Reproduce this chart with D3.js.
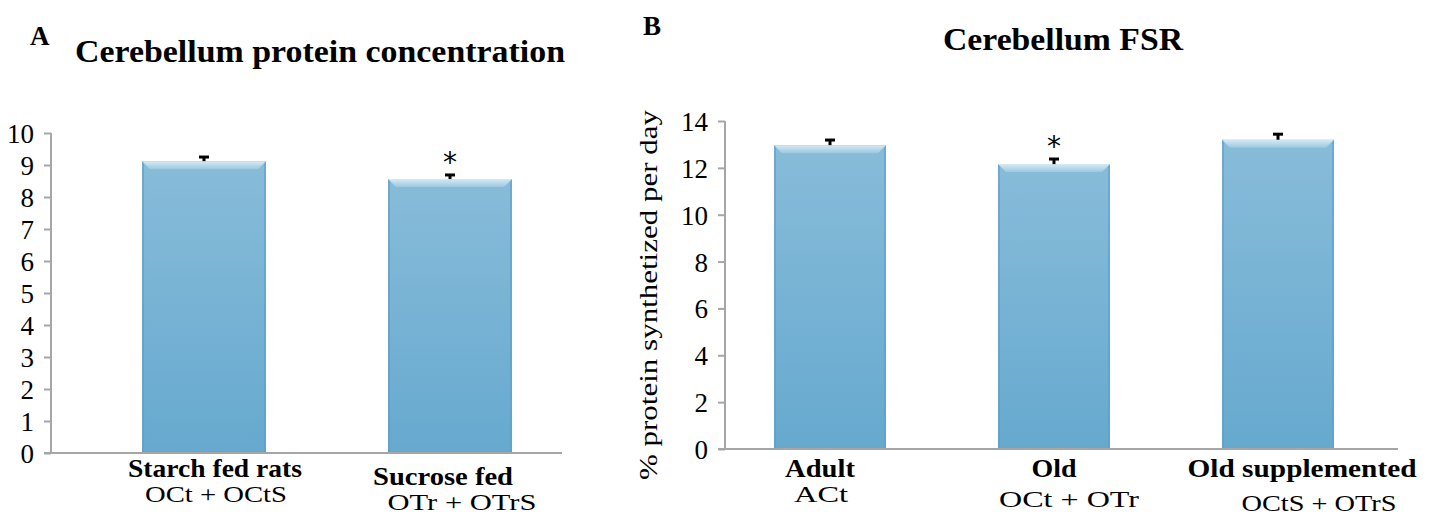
<!DOCTYPE html>
<html><head><meta charset="utf-8">
<script src="https://cdn.jsdelivr.net/npm/d3@7"></script>
<style>body{margin:0;background:#fff}svg text{font-family:'Liberation Serif','Times New Roman',serif;fill:#000}</style>
</head><body><svg id="c" width="1432" height="516"></svg>
<script>
const catsA = ["Starch fed rats", "Sucrose fed"];
const subA = ["OCt + OCtS", "OTr + OTrS"];
const valuesA = [9.12, 8.56];
const errA = [0.16, 0.16];
const sigA = [false, true];
const ticksA = [0,1,2,3,4,5,6,7,8,9,10];

const catsB = ["Adult", "Old", "Old supplemented"];
const subB = ["ACt", "OCt + OTr", "OCtS + OTrS"];
const valuesB = [12.97, 12.16, 13.2];
const errB = [0.26, 0.26, 0.28];
const sigB = [false, true, false];
const ticksB = [0,2,4,6,8,10,12,14];

const SERIF = "'Liberation Serif', 'Times New Roman', serif";
const svg = d3.select("#c");
const defs = svg.append("defs");
const g1 = defs.append("linearGradient").attr("id","barg").attr("x1",0).attr("y1",0).attr("x2",0).attr("y2",1);
g1.append("stop").attr("offset","0%").attr("stop-color","#88bcd9");
g1.append("stop").attr("offset","100%").attr("stop-color","#66a9cf");
const g2 = defs.append("linearGradient").attr("id","bevel").attr("x1",0).attr("y1",0).attr("x2",0).attr("y2",1);
g2.append("stop").attr("offset","0%").attr("stop-color","#d6e9f4");
g2.append("stop").attr("offset","100%").attr("stop-color","#9cc8e0");

function txt(sel){ return sel.attr("font-family",SERIF).style("font-family",SERIF); }

function panel(o){
  const x = d3.scaleBand().domain(o.cats).range(o.xr).paddingInner(o.pad).paddingOuter(o.pad/2);
  const y = d3.scaleLinear().domain([0, o.max]).range(o.yr);
  const g = svg.append("g");
  const ax = g.append("g").attr("transform",`translate(${o.ax},0)`)
    .call(d3.axisLeft(y).tickValues(o.ticks).tickSize(7).tickPadding(10).tickFormat(d3.format("d")));
  ax.attr("font-family",SERIF);
  ax.select(".domain").remove();
  ax.selectAll(".tick line").attr("stroke","#a6a6a6").attr("stroke-width",2);
  txt(ax.selectAll(".tick text")).style("font-size","27px").attr("dy","0.35em");
  g.append("line").attr("x1",o.ax).attr("x2",o.ax).attr("y1",y(o.max)).attr("y2",y(0)).attr("stroke","#a6a6a6").attr("stroke-width",2);
  const bw = x.bandwidth();
  o.cats.forEach((c,i)=>{
    const x0 = x(c), yt = y(o.vals[i]), h = y(0)-yt;
    g.append("rect").attr("x",x0).attr("y",yt).attr("width",bw).attr("height",h).attr("fill","url(#barg)");
    g.append("rect").attr("x",x0).attr("y",yt).attr("width",2).attr("height",h).attr("fill","#5b9fc8").attr("opacity",0.6);
    g.append("rect").attr("x",x0+bw-2).attr("y",yt).attr("width",2).attr("height",h).attr("fill","#5b9fc8").attr("opacity",0.6);
    g.append("path").attr("d",`M${x0},${yt}L${x0+bw},${yt}L${x0+bw-8},${yt+8}L${x0+8},${yt+8}Z`).attr("fill","url(#bevel)");
    const cx = x0+bw/2, ye = y(o.vals[i]+o.err[i]);
    g.append("line").attr("x1",cx).attr("x2",cx).attr("y1",yt).attr("y2",ye).attr("stroke","#000").attr("stroke-width",3);
    g.append("line").attr("x1",cx-5).attr("x2",cx+5).attr("y1",ye+1).attr("y2",ye+1).attr("stroke","#000").attr("stroke-width",3);
    if(o.sig[i]) g.append("text").attr("x",cx).attr("y",ye-2).attr("text-anchor","middle").style("font-size","28px").style("font-family","'DejaVu Sans', sans-serif").text("*");
    const L = o.lab[i];
    txt(g.append("text")).attr("x",cx+L[0]).attr("y",L[1]).attr("text-anchor","middle")
      .attr("textLength",L[2]).attr("lengthAdjust","spacingAndGlyphs")
      .style("font-size","25px").style("font-weight","bold").text(c);
    txt(g.append("text")).attr("x",cx+L[3]).attr("y",L[4]).attr("text-anchor","middle")
      .attr("textLength",L[5]).attr("lengthAdjust","spacingAndGlyphs")
      .style("font-size","23px").text(o.sub[i]);
  });
  g.append("line").attr("x1",o.ax-7).attr("x2",o.xend).attr("y1",y(0)).attr("y2",y(0)).attr("stroke","#a6a6a6").attr("stroke-width",2);
  return g;
}

panel({cats:catsA, sub:subA, vals:valuesA, err:errA, sig:sigA, ticks:ticksA, max:10,
  xr:[81,573], pad:0.496, yr:[453,133], ax:51, xend:562,
  lab:[[11,477,174,12,502,142],[-7,485,140,12,510,149]]});
panel({cats:catsB, sub:subB, vals:valuesB, err:errB, sig:sigB, ticks:ticksB, max:14,
  xr:[718,1390], pad:0.5, yr:[449,121], ax:725, xend:1398,
  lab:[[-10,477,70,-9,502,54],[0,477,45,15,507,140],[24,477,229,41,511,155]]});

txt(svg.append("text")).attr("x",30).attr("y",45).style("font-size","27px").style("font-weight","bold").text("A");
txt(svg.append("text")).attr("x",643).attr("y",35).style("font-size","27px").style("font-weight","bold").text("B");
txt(svg.append("text")).attr("x",75).attr("y",62).attr("textLength",490).attr("lengthAdjust","spacingAndGlyphs").style("font-size","31px").style("font-weight","bold").text("Cerebellum protein concentration");
txt(svg.append("text")).attr("x",943).attr("y",50).attr("textLength",240).attr("lengthAdjust","spacingAndGlyphs").style("font-size","31px").style("font-weight","bold").text("Cerebellum FSR");
txt(svg.append("text")).attr("transform","translate(657,295) rotate(-90)").attr("text-anchor","middle").attr("textLength",370).attr("lengthAdjust","spacingAndGlyphs").style("font-size","25px").text("% protein synthetized per day");
</script></body></html>
